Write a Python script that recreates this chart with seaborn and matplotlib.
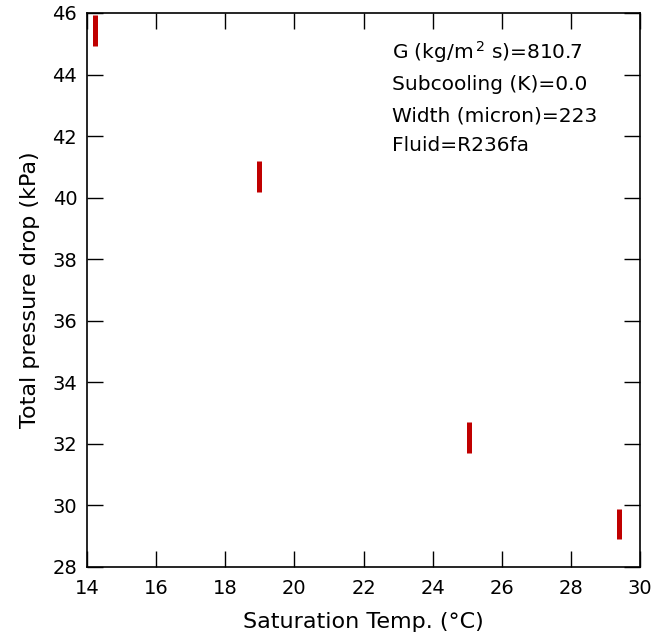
import matplotlib
matplotlib.use("Agg")
import matplotlib.pyplot as plt
import seaborn as sns
import pandas as pd
import numpy as np

# Data
sat_temp = [14.23, 18.99, 25.06, 29.40]
dp_center = [45.43, 40.70, 32.22, 29.40]
dp_err = [0.5, 0.5, 0.5, 0.5]
xticks = [14, 16, 18, 20, 22, 24, 26, 28, 30]
yticks = [28, 30, 32, 34, 36, 38, 40, 42, 44, 46]
annotations = ["G (kg/m$^{\\,2}$ s)=810.7", "Subcooling (K)=0.0",
               "Width (micron)=223", "Fluid=R236fa"]

rows = []
for i, (t, c, e) in enumerate(zip(sat_temp, dp_center, dp_err)):
    rows.append({"id": i, "T": t, "dp": c - e})
    rows.append({"id": i, "T": t, "dp": c + e})
df = pd.DataFrame(rows)

sns.set_style("ticks")
plt.rcParams['font.family'] = ['DejaVu Sans']
plt.rcParams['text.color'] = 'black'
plt.rcParams['axes.labelcolor'] = 'black'
plt.rcParams['xtick.color'] = 'black'
plt.rcParams['ytick.color'] = 'black'
fig = plt.figure(figsize=(6.71, 6.37), dpi=100)
ax = fig.add_axes([0.1297, 0.1099, 0.9538 - 0.1297, 0.9796 - 0.1099])

sns.lineplot(data=df, x="T", y="dp", units="id", estimator=None,
             color="#c00000", lw=3.6, solid_capstyle="butt", ax=ax,
             legend=False)

ax.set_xlim(14, 30)
ax.set_ylim(28, 46)
ax.set_xticks(xticks)
ax.set_yticks(yticks)
ax.tick_params(direction="in", length=11.5, width=1, top=True, right=True,
               labelsize=14, colors="black")
ax.tick_params(axis="x", pad=9)
ax.tick_params(axis="y", pad=7)
for s in ax.spines.values():
    s.set_linewidth(1.2)
    s.set_color("black")
ax.set_xlabel("Saturation Temp. (°C)", fontsize=16, labelpad=10)
ax.set_ylabel("Total pressure drop (kPa)", fontsize=16, labelpad=9)

ys = [52, 84, 116, 145]
for txt, yp in zip(annotations, ys):
    fig.text(392 / 671, 1 - yp / 637, txt, fontsize=14.5, va="center", ha="left")

fig.savefig("out.png", dpi=100)
